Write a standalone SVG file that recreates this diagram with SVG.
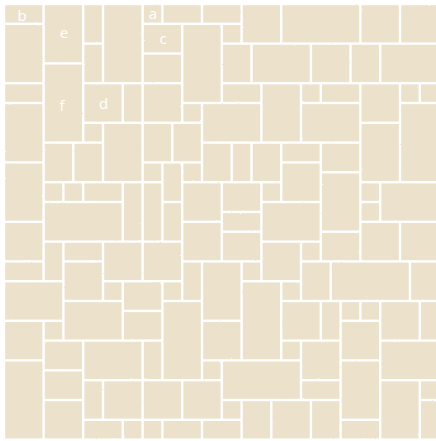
<svg xmlns="http://www.w3.org/2000/svg" width="436" height="441" viewBox="0 0 436 441">
<defs>
<filter id="rough" x="-5%" y="-5%" width="110%" height="110%">
<feTurbulence type="fractalNoise" baseFrequency="0.45" numOctaves="2" seed="3" result="n"/>
<feDisplacementMap in="SourceGraphic" in2="n" scale="1.6" xChannelSelector="R" yChannelSelector="G"/>
</filter>
</defs>
<style>
.t{fill:#ECE2CC;filter:url(#rough)}
.l{fill:#ffffff;font-family:"Open Sans","Liberation Sans",sans-serif;font-size:15px;text-anchor:middle}
</style>
<rect x="0" y="0" width="436" height="441" fill="#ffffff"/>
<g id="tile-b"><rect class="t" x="5.2" y="5.2" width="37.2" height="17.4"/><text class="l" x="22" y="21">b</text></g>
<g id="tile-e"><rect class="t" x="44.8" y="5.2" width="37.2" height="57"/><text class="l" x="64" y="38">e</text></g>
<g id="tile-f"><rect class="t" x="44.8" y="64.6" width="37.2" height="76.8"/><text class="l" x="62" y="111">f</text></g>
<g id="tile-d"><rect class="t" x="84.4" y="84.4" width="37.2" height="37.2"/><text class="l" x="103.5" y="109">d</text></g>
<g id="tile-a"><rect class="t" x="143.8" y="5.2" width="17.4" height="17.4"/><text class="l" x="153" y="19">a</text></g>
<g id="tile-c"><rect class="t" x="143.8" y="25" width="37.2" height="27.3"/><text class="l" x="163" y="44">c</text></g>
<g id="tiles">
<rect class="t" x="5.2" y="25" width="37.2" height="57"/>
<rect class="t" x="5.2" y="84.4" width="37.2" height="17.4"/>
<rect class="t" x="5.2" y="104.2" width="37.2" height="57"/>
<rect class="t" x="84.4" y="5.2" width="17.4" height="37.2"/>
<rect class="t" x="84.4" y="44.8" width="17.4" height="37.2"/>
<rect class="t" x="104.2" y="5.2" width="37.2" height="76.8"/>
<rect class="t" x="124" y="84.4" width="17.4" height="37.2"/>
<rect class="t" x="84.4" y="124" width="17.4" height="17.4"/>
<rect class="t" x="104.2" y="124" width="37.2" height="57"/>
<rect class="t" x="163.6" y="5.2" width="37.2" height="17.4"/>
<rect class="t" x="203.2" y="5.2" width="37.2" height="17.4"/>
<rect class="t" x="242.8" y="5.2" width="37.2" height="37.2"/>
<rect class="t" x="282.4" y="5.2" width="76.8" height="37.2"/>
<rect class="t" x="361.6" y="5.2" width="37.2" height="37.2"/>
<rect class="t" x="401.2" y="5.2" width="37.2" height="37.2"/>
<rect class="t" x="143.8" y="54.7" width="37.2" height="27.3"/>
<rect class="t" x="183.4" y="25" width="37.2" height="76.8"/>
<rect class="t" x="223" y="25" width="17.4" height="17.4"/>
<rect class="t" x="223" y="44.8" width="27.3" height="37.2"/>
<rect class="t" x="252.7" y="44.8" width="57" height="37.2"/>
<rect class="t" x="312.1" y="44.8" width="37.2" height="37.2"/>
<rect class="t" x="351.7" y="44.8" width="27.3" height="37.2"/>
<rect class="t" x="381.4" y="44.8" width="57" height="37.2"/>
<rect class="t" x="143.8" y="84.4" width="37.2" height="37.2"/>
<rect class="t" x="223" y="84.4" width="37.2" height="17.4"/>
<rect class="t" x="262.6" y="84.4" width="37.2" height="57"/>
<rect class="t" x="183.4" y="104.2" width="17.4" height="17.4"/>
<rect class="t" x="203.2" y="104.2" width="57" height="37.2"/>
<rect class="t" x="143.8" y="124" width="27.3" height="37.2"/>
<rect class="t" x="173.5" y="124" width="27.3" height="37.2"/>
<rect class="t" x="302.2" y="84.4" width="17.4" height="17.4"/>
<rect class="t" x="322" y="84.4" width="37.2" height="17.4"/>
<rect class="t" x="302.2" y="104.2" width="57" height="37.2"/>
<rect class="t" x="361.6" y="84.4" width="37.2" height="37.2"/>
<rect class="t" x="361.6" y="124" width="37.2" height="57"/>
<rect class="t" x="401.2" y="84.4" width="17.4" height="17.4"/>
<rect class="t" x="421" y="84.4" width="17.4" height="17.4"/>
<rect class="t" x="401.2" y="104.2" width="37.2" height="76.8"/>
<rect class="t" x="44.8" y="143.8" width="27.3" height="37.2"/>
<rect class="t" x="74.5" y="143.8" width="27.3" height="37.2"/>
<rect class="t" x="203.2" y="143.8" width="27.3" height="37.2"/>
<rect class="t" x="232.9" y="143.8" width="17.4" height="37.2"/>
<rect class="t" x="252.7" y="143.8" width="27.3" height="37.2"/>
<rect class="t" x="282.4" y="143.8" width="37.2" height="17.4"/>
<rect class="t" x="282.4" y="163.6" width="37.2" height="37.2"/>
<rect class="t" x="322" y="143.8" width="37.2" height="27.3"/>
<rect class="t" x="143.8" y="163.6" width="17.4" height="17.4"/>
<rect class="t" x="163.6" y="163.6" width="17.4" height="37.2"/>
<rect class="t" x="183.4" y="163.6" width="17.4" height="17.4"/>
<rect class="t" x="5.2" y="163.6" width="37.2" height="57"/>
<rect class="t" x="44.8" y="183.4" width="17.4" height="17.4"/>
<rect class="t" x="64.6" y="183.4" width="17.4" height="17.4"/>
<rect class="t" x="84.4" y="183.4" width="37.2" height="17.4"/>
<rect class="t" x="124" y="183.4" width="17.4" height="57"/>
<rect class="t" x="44.8" y="203.2" width="76.8" height="37.2"/>
<rect class="t" x="143.8" y="183.4" width="17.4" height="57"/>
<rect class="t" x="163.6" y="203.2" width="17.4" height="37.2"/>
<rect class="t" x="183.4" y="183.4" width="37.2" height="37.2"/>
<rect class="t" x="223" y="183.4" width="37.2" height="27.3"/>
<rect class="t" x="223" y="213.1" width="37.2" height="17.4"/>
<rect class="t" x="223" y="232.9" width="37.2" height="27.3"/>
<rect class="t" x="183.4" y="223" width="37.2" height="37.2"/>
<rect class="t" x="262.6" y="183.4" width="17.4" height="17.4"/>
<rect class="t" x="262.6" y="203.2" width="57" height="37.2"/>
<rect class="t" x="322" y="173.5" width="37.2" height="57"/>
<rect class="t" x="322" y="232.9" width="37.2" height="27.3"/>
<rect class="t" x="361.6" y="183.4" width="17.4" height="17.4"/>
<rect class="t" x="361.6" y="203.2" width="17.4" height="17.4"/>
<rect class="t" x="381.4" y="183.4" width="57" height="37.2"/>
<rect class="t" x="361.6" y="223" width="37.2" height="37.2"/>
<rect class="t" x="401.2" y="223" width="37.2" height="37.2"/>
<rect class="t" x="5.2" y="223" width="37.2" height="37.2"/>
<rect class="t" x="5.2" y="262.6" width="37.2" height="17.4"/>
<rect class="t" x="44.8" y="242.8" width="17.4" height="37.2"/>
<rect class="t" x="64.6" y="242.8" width="37.2" height="17.4"/>
<rect class="t" x="64.6" y="262.6" width="37.2" height="37.2"/>
<rect class="t" x="104.2" y="242.8" width="37.2" height="37.2"/>
<rect class="t" x="143.8" y="242.8" width="37.2" height="37.2"/>
<rect class="t" x="183.4" y="262.6" width="17.4" height="37.2"/>
<rect class="t" x="203.2" y="262.6" width="37.2" height="57"/>
<rect class="t" x="242.8" y="262.6" width="17.4" height="17.4"/>
<rect class="t" x="262.6" y="242.8" width="37.2" height="37.2"/>
<rect class="t" x="302.2" y="242.8" width="17.4" height="17.4"/>
<rect class="t" x="302.2" y="262.6" width="27.3" height="37.2"/>
<rect class="t" x="331.9" y="262.6" width="76.8" height="37.2"/>
<rect class="t" x="411.1" y="262.6" width="27.3" height="37.2"/>
<rect class="t" x="242.8" y="282.4" width="37.2" height="76.8"/>
<rect class="t" x="124" y="282.4" width="37.2" height="27.3"/>
<rect class="t" x="104.2" y="282.4" width="17.4" height="17.4"/>
<rect class="t" x="163.6" y="282.4" width="17.4" height="17.4"/>
<rect class="t" x="282.4" y="282.4" width="17.4" height="17.4"/>
<rect class="t" x="5.2" y="282.4" width="57" height="37.2"/>
<rect class="t" x="64.6" y="302.2" width="57" height="37.2"/>
<rect class="t" x="124" y="312.1" width="37.2" height="27.3"/>
<rect class="t" x="163.6" y="302.2" width="37.2" height="76.8"/>
<rect class="t" x="282.4" y="302.2" width="37.2" height="37.2"/>
<rect class="t" x="322" y="302.2" width="17.4" height="37.2"/>
<rect class="t" x="341.8" y="302.2" width="17.4" height="17.4"/>
<rect class="t" x="361.6" y="302.2" width="17.4" height="17.4"/>
<rect class="t" x="381.4" y="302.2" width="37.2" height="37.2"/>
<rect class="t" x="421" y="302.2" width="17.4" height="37.2"/>
<rect class="t" x="5.2" y="322" width="37.2" height="37.2"/>
<rect class="t" x="44.8" y="322" width="17.4" height="17.4"/>
<rect class="t" x="203.2" y="322" width="37.2" height="37.2"/>
<rect class="t" x="341.8" y="322" width="37.2" height="37.2"/>
<rect class="t" x="44.8" y="341.8" width="37.2" height="27.3"/>
<rect class="t" x="84.4" y="341.8" width="57" height="37.2"/>
<rect class="t" x="143.8" y="341.8" width="17.4" height="37.2"/>
<rect class="t" x="282.4" y="341.8" width="17.4" height="17.4"/>
<rect class="t" x="302.2" y="341.8" width="37.2" height="37.2"/>
<rect class="t" x="381.4" y="341.8" width="57" height="37.2"/>
<rect class="t" x="5.2" y="361.6" width="37.2" height="76.8"/>
<rect class="t" x="44.8" y="371.5" width="37.2" height="27.3"/>
<rect class="t" x="203.2" y="361.6" width="17.4" height="17.4"/>
<rect class="t" x="223" y="361.6" width="76.8" height="37.2"/>
<rect class="t" x="341.8" y="361.6" width="37.2" height="57"/>
<rect class="t" x="84.4" y="381.4" width="17.4" height="37.2"/>
<rect class="t" x="104.2" y="381.4" width="37.2" height="37.2"/>
<rect class="t" x="143.8" y="381.4" width="37.2" height="37.2"/>
<rect class="t" x="183.4" y="381.4" width="37.2" height="37.2"/>
<rect class="t" x="302.2" y="381.4" width="37.2" height="17.4"/>
<rect class="t" x="381.4" y="381.4" width="37.2" height="57"/>
<rect class="t" x="421" y="381.4" width="17.4" height="17.4"/>
<rect class="t" x="44.8" y="401.2" width="37.2" height="37.2"/>
<rect class="t" x="223" y="401.2" width="17.4" height="17.4"/>
<rect class="t" x="242.8" y="401.2" width="27.3" height="37.2"/>
<rect class="t" x="272.5" y="401.2" width="37.2" height="37.2"/>
<rect class="t" x="312.1" y="401.2" width="27.3" height="37.2"/>
<rect class="t" x="421" y="401.2" width="17.4" height="37.2"/>
<rect class="t" x="84.4" y="421" width="37.2" height="17.4"/>
<rect class="t" x="124" y="421" width="17.4" height="17.4"/>
<rect class="t" x="143.8" y="421" width="17.4" height="17.4"/>
<rect class="t" x="163.6" y="421" width="37.2" height="17.4"/>
<rect class="t" x="203.2" y="421" width="37.2" height="17.4"/>
<rect class="t" x="341.8" y="421" width="37.2" height="17.4"/>
</g>
</svg>
